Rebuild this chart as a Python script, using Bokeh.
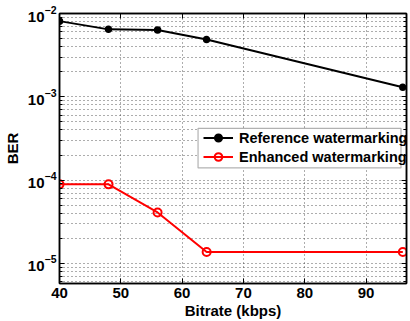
from bokeh.plotting import figure
from bokeh.models import (FixedTicker, LinearAxis, LogAxis, Legend, LegendItem,
                          BoxAnnotation, Range1d, CustomJSTickFormatter)
from bokeh.embed import file_html
from bokeh.resources import INLINE

bitrate = [40, 48, 56, 64, 96]
ber_reference = [8.1e-3, 6.45e-3, 6.35e-3, 4.87e-3, 1.3e-3]
ber_enhanced = [8.9e-5, 8.9e-5, 4.1e-5, 1.37e-5, 1.37e-5]
x_ticks = [40, 50, 60, 70, 80, 90]
y_ticks = [1e-5, 1e-4, 1e-3, 1e-2]
y_minor = [m * d for d in [1e-6, 1e-5, 1e-4, 1e-3] for m in range(2, 10)]
legend_labels = ["Reference watermarking", "Enhanced watermarking"]

FONT = "Liberation Sans"

p = figure(width=410, height=321, y_axis_type="log",
           x_range=Range1d(40, 96.6), y_range=Range1d(5.75e-6, 1e-2),
           output_backend="svg", toolbar_location=None,
           min_border_left=59, min_border_right=4,
           min_border_top=13, min_border_bottom=35)
p.background_fill_color = "white"
p.border_fill_color = "white"
p.outline_line_color = "black"
p.outline_line_width = 1.5

xt = FixedTicker(ticks=x_ticks)
yt = FixedTicker(ticks=y_ticks, minor_ticks=y_minor)

for ax in p.xaxis:
    ax.ticker = xt
for ax in p.yaxis:
    ax.ticker = yt

def style_axis(ax):
    ax.axis_line_color = "black"
    ax.axis_line_width = 1.5
    ax.major_tick_in = 5
    ax.major_tick_out = 0
    ax.minor_tick_in = 3
    ax.minor_tick_out = 0
    ax.major_tick_line_color = "black"
    ax.minor_tick_line_color = "black"
    ax.major_label_text_font = FONT
    ax.major_label_text_font_style = "bold"
    ax.major_label_text_font_size = "15px"
    ax.major_label_text_color = "black"
    ax.axis_label_text_font = FONT
    ax.axis_label_text_font_style = "bold"
    ax.axis_label_text_font_size = "15px"
    ax.axis_label_text_color = "black"

style_axis(p.xaxis[0])
style_axis(p.yaxis[0])
p.xaxis[0].minor_tick_line_color = None
p.xaxis.axis_label = "Bitrate (kbps)"
p.yaxis.axis_label = "BER"
p.xaxis.major_label_standoff = 4
p.xaxis.axis_label_standoff = 1
p.yaxis.major_label_standoff = 3
p.yaxis.axis_label_standoff = 4

top = LinearAxis(ticker=xt, formatter=CustomJSTickFormatter(code="return ''"))
style_axis(top)
top.minor_tick_line_color = None
top.major_label_standoff = 0
p.add_layout(top, "above")
right = LogAxis(ticker=yt, formatter=CustomJSTickFormatter(code="return ''"))
style_axis(right)
right.major_label_standoff = 0
p.add_layout(right, "right")

p.xgrid.ticker = xt
p.ygrid.ticker = yt
for g in (p.xgrid[0], p.ygrid[0]):
    g.grid_line_color = "#333333"
    g.grid_line_dash = "1 3"
    g.grid_line_width = 1
    g.grid_line_alpha = 0.8
p.ygrid.minor_grid_line_color = "#333333"
p.ygrid.minor_grid_line_dash = "1 3"
p.ygrid.minor_grid_line_alpha = 0.8

r1l = p.line(bitrate, ber_reference, line_color="black", line_width=2)
r1m = p.scatter(bitrate, ber_reference, marker="circle", size=6,
                fill_color="black", line_color="black", line_width=1.5)
r2l = p.line(bitrate, ber_enhanced, line_color="red", line_width=2)
r2m = p.scatter(bitrate, ber_enhanced, marker="circle", size=8,
                fill_color=None, line_color="red", line_width=2)

box = BoxAnnotation(left=62.6, right=95.7, top=4.19e-4, bottom=1.40e-4,
                    fill_color="white", fill_alpha=1.0,
                    line_color="black", line_width=1.2)
p.add_layout(box)

legend = Legend(items=[LegendItem(label=legend_labels[0], renderers=[r1l, r1m]),
                       LegendItem(label=legend_labels[1], renderers=[r2l, r2m])],
                location=(142, 115), margin=0, padding=2, spacing=0,
                glyph_width=30, glyph_height=19, label_height=19,
                label_standoff=6,
                label_text_font=FONT, label_text_font_style="bold",
                label_text_font_size="14.5px", label_text_color="black",
                border_line_alpha=0, background_fill_alpha=0)
p.add_layout(legend, "center")

open("out.html", "w").write(file_html(p, INLINE))
